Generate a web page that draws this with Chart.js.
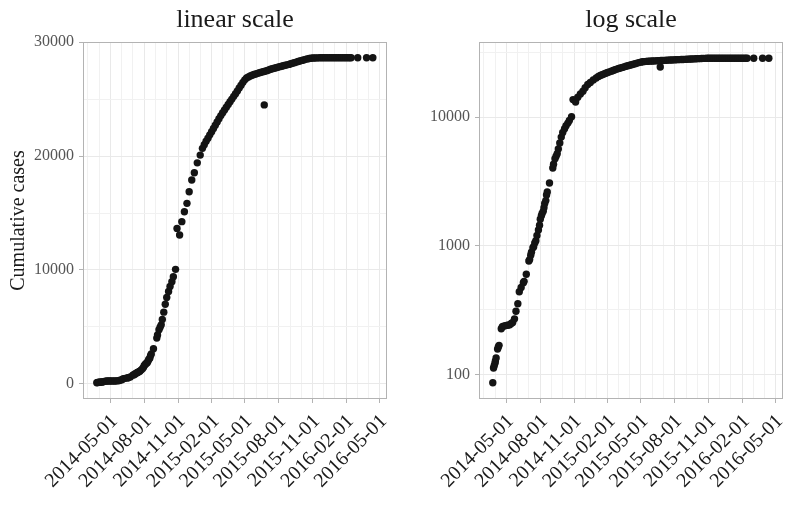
<!DOCTYPE html>
<html>
<head>
<meta charset="utf-8">
<script src="https://cdn.jsdelivr.net/npm/chart.js@4.4.1/dist/chart.umd.min.js"></script>
<style>
  html, body { margin: 0; padding: 0; background: #fff; }
  #wrap { position: relative; width: 794px; height: 529px; }
  canvas { position: absolute; top: 0; }
  #linearChart { left: 0; }
  #logChart { left: 397px; }
</style>
</head>
<body>
<div id="wrap">
  <canvas id="linearChart" width="397" height="529"></canvas>
  <canvas id="logChart" width="397" height="529"></canvas>
</div>
<script>
// cumulative cases by report date
var dates = [
  '2014-03-25', '2014-03-27', '2014-03-29', '2014-03-31', '2014-04-01', '2014-04-03',
  '2014-04-07', '2014-04-09', '2014-04-11', '2014-04-17', '2014-04-20', '2014-04-23',
  '2014-04-27', '2014-05-01', '2014-05-05', '2014-05-10', '2014-05-14', '2014-05-18',
  '2014-05-23', '2014-05-27', '2014-06-01', '2014-06-05', '2014-06-10', '2014-06-16',
  '2014-06-18', '2014-06-24', '2014-07-01', '2014-07-03', '2014-07-06', '2014-07-08',
  '2014-07-12', '2014-07-14', '2014-07-17', '2014-07-20', '2014-07-23', '2014-07-27',
  '2014-07-30', '2014-08-01', '2014-08-04', '2014-08-06', '2014-08-09', '2014-08-11',
  '2014-08-13', '2014-08-16', '2014-08-18', '2014-08-20', '2014-08-26', '2014-09-04',
  '2014-09-06', '2014-09-10', '2014-09-13', '2014-09-16', '2014-09-19', '2014-09-23',
  '2014-09-27', '2014-10-01', '2014-10-06', '2014-10-10', '2014-10-15', '2014-10-19',
  '2014-10-25', '2014-10-29', '2014-11-05', '2014-11-11', '2014-11-18', '2014-11-25',
  '2014-12-01', '2014-12-08', '2014-12-15', '2014-12-23', '2014-12-31',
  '2015-01-06', '2015-01-11', '2015-01-16', '2015-01-21', '2015-01-26', '2015-01-31',
  '2015-02-05', '2015-02-10', '2015-02-15', '2015-02-20', '2015-02-25', '2015-03-02',
  '2015-03-07', '2015-03-12', '2015-03-17', '2015-03-22', '2015-03-27', '2015-04-01',
  '2015-04-06', '2015-04-11', '2015-04-16', '2015-04-21', '2015-04-26', '2015-05-01',
  '2015-05-06', '2015-05-11', '2015-05-16', '2015-05-21', '2015-05-26', '2015-05-31',
  '2015-06-05', '2015-06-10', '2015-06-15', '2015-06-20', '2015-06-23', '2015-06-25',
  '2015-06-30', '2015-07-05', '2015-07-10', '2015-07-15', '2015-07-20', '2015-07-25',
  '2015-07-30', '2015-08-04', '2015-08-09', '2015-08-14', '2015-08-19', '2015-08-24',
  '2015-08-29', '2015-09-03', '2015-09-08', '2015-09-13', '2015-09-18', '2015-09-23',
  '2015-09-28', '2015-10-03', '2015-10-08', '2015-10-13', '2015-10-18', '2015-10-23',
  '2015-10-28', '2015-11-02', '2015-11-07', '2015-11-12', '2015-11-17', '2015-11-22',
  '2015-11-27', '2015-12-02', '2015-12-07', '2015-12-12', '2015-12-17', '2015-12-22',
  '2015-12-27', '2016-01-01', '2016-01-06', '2016-01-11', '2016-01-16', '2016-01-21',
  '2016-01-26', '2016-01-31', '2016-02-05', '2016-02-10', '2016-02-14', '2016-03-03',
  '2016-03-27', '2016-04-13'
];
var cases = [
  86, 112, 117, 122, 127, 134,
  157, 163, 168, 226, 234, 237,
  238, 240, 241, 243, 248, 253,
  270, 309, 354, 438, 474, 516,
  528, 599, 759, 779, 844, 888,
  964, 982, 1048, 1093, 1201, 1323,
  1440, 1603, 1711, 1779, 1848, 1975,
  2127, 2240, 2473, 2615, 3069, 4010,
  4290, 4740, 4960, 5175, 5650, 6290,
  6980, 7580, 8100, 8540, 8970, 9410,
  10050, 13650, 13070, 14240, 15115, 15850,
  16870, 17895, 18535, 19410, 20090,
  20680, 21000, 21300, 21580, 21870, 22150,
  22430, 22720, 23000, 23290, 23560, 23810,
  24050, 24290, 24540, 24780, 25010, 25250,
  25490, 25730, 25980, 26230, 26480, 26700,
  26860, 26960, 27040, 27110, 27170, 27220,
  27270, 27320, 27370, 27420, 24500, 27460,
  27510, 27570, 27630, 27680, 27720, 27770,
  27810, 27860, 27900, 27940, 27980, 28020,
  28060, 28110, 28160, 28210, 28260, 28310,
  28360, 28410, 28450, 28500, 28540, 28570,
  28600, 28615, 28625, 28630, 28635, 28637,
  28637, 28637, 28638, 28638, 28640, 28640,
  28640, 28641, 28641, 28641, 28642, 28642,
  28642, 28642, 28643, 28643, 28644, 28644,
  28646, 28646
];

var xTickDates = ['2014-05-01', '2014-08-01', '2014-11-01', '2015-02-01', '2015-05-01',
                  '2015-08-01', '2015-11-01', '2016-02-01', '2016-05-01'];
var linearTicks = [0, 10000, 20000, 30000];
var logTicks = [100, 1000, 10000];

var serif = "'Liberation Serif', 'DejaVu Serif', serif";
var ink = '#1a1a1a';
var frameGrey = '#b3b3b3';

function dayNum(s) {
    return Date.parse(s + 'T00:00:00Z') / 86400000;
}

var points = dates.map(function (d, i) { return { x: dayNum(d), y: cases[i] }; });
var majorX = xTickDates.map(dayNum);

// monthly minor grid lines
var monthTicks = [];
for (var y = 2014; y <= 2016; y++) {
    for (var m = 1; m <= 12; m++) {
        var s = y + '-' + (m < 10 ? '0' + m : m) + '-01';
        if (s >= '2014-03-01' && s <= '2016-05-01') monthTicks.push(dayNum(s));
    }
}

function isMajorX(v) { return majorX.indexOf(v) >= 0; }

var panelPlugin = {
    id: 'panel',
    afterDraw: function (chart) {
        var ctx = chart.ctx;
        var a = chart.chartArea;
        var o = chart.options.plugins.panel;
        ctx.save();
        // panel border
        ctx.strokeStyle = frameGrey;
        ctx.lineWidth = 1;
        ctx.strokeRect(Math.round(a.left) + 0.5, Math.round(a.top) + 0.5,
                       Math.round(a.right - a.left) - 1, Math.round(a.bottom - a.top) - 1);
        // title
        ctx.fillStyle = ink;
        ctx.font = '26px ' + serif;
        ctx.textAlign = 'center';
        ctx.textBaseline = 'alphabetic';
        ctx.fillText(o.title, (a.left + a.right) / 2, 27);
        // rotated date labels
        ctx.font = '20px ' + serif;
        ctx.textAlign = 'right';
        xTickDates.forEach(function (d) {
            var px = chart.scales.x.getPixelForValue(dayNum(d));
            ctx.save();
            ctx.translate(px + 8, a.bottom + 23);
            ctx.rotate(-Math.PI / 4);
            ctx.fillText(d, 0, 0);
            ctx.restore();
        });
        // y axis title
        if (o.yTitle) {
            ctx.save();
            ctx.font = '20px ' + serif;
            ctx.textAlign = 'center';
            ctx.translate(24, (a.top + a.bottom) / 2);
            ctx.rotate(-Math.PI / 2);
            ctx.fillText(o.yTitle, 0, 0);
            ctx.restore();
        }
        ctx.restore();
    }
};

function makeChart(id, opts) {
    var el = document.getElementById(id).getContext('2d');
    return new Chart(el, {
        type: 'scatter',
        data: {
            datasets: [{
                data: points,
                backgroundColor: '#141414',
                borderWidth: 0,
                pointRadius: 3.7,
                pointHoverRadius: 3.7
            }]
        },
        options: {
            responsive: false,
            animation: false,
            events: [],
            layout: { padding: { top: 42, right: opts.rightPad, bottom: 0, left: 0 } },
            plugins: {
                legend: { display: false },
                tooltip: { enabled: false },
                panel: { title: opts.title, yTitle: opts.yTitle }
            },
            scales: {
                x: {
                    type: 'linear',
                    min: dayNum('2014-02-15') + 0.5,
                    max: dayNum('2016-05-21') + 0.5,
                    afterBuildTicks: function (scale) {
                        scale.ticks = monthTicks.map(function (v) { return { value: v }; });
                    },
                    afterFit: function (scale) { scale.height = 130; },
                    ticks: { display: false, autoSkip: false },
                    border: { display: false },
                    grid: {
                        color: function (c) { return c.tick && isMajorX(c.tick.value) ? '#e9e9e9' : '#f1f1f1'; },
                        lineWidth: 1,
                        tickLength: 4,
                        tickColor: function (c) { return c.tick && isMajorX(c.tick.value) ? frameGrey : 'rgba(0,0,0,0)'; }
                    }
                },
                y: {
                    type: opts.yType,
                    min: opts.yMin,
                    max: opts.yMax,
                    afterBuildTicks: function (scale) {
                        scale.ticks = opts.yGrid.map(function (v) { return { value: v }; });
                    },
                    afterFit: function (scale) { scale.width = opts.leftW; },
                    border: { display: false },
                    ticks: {
                        autoSkip: false,
                        padding: 5,
                        color: '#555',
                        font: { family: serif, size: 16 },
                        callback: function (v) {
                            return opts.yMajor.indexOf(v) >= 0 ? String(v) : '';
                        }
                    },
                    grid: {
                        color: function (c) { return c.tick && opts.yMajor.indexOf(c.tick.value) >= 0 ? '#e9e9e9' : '#f1f1f1'; },
                        lineWidth: 1,
                        tickLength: 4,
                        tickColor: function (c) { return c.tick && opts.yMajor.indexOf(c.tick.value) >= 0 ? frameGrey : 'rgba(0,0,0,0)'; }
                    }
                }
            }
        },
        plugins: [panelPlugin]
    });
}

var linearChart = makeChart('linearChart', {
    title: 'linear scale',
    yTitle: 'Cumulative cases',
    yType: 'linear',
    yMin: -1340,
    yMax: 30026,
    yMajor: linearTicks,
    yGrid: [0, 5000, 10000, 15000, 20000, 25000, 30000],
    leftW: 83,
    rightPad: 10
});

var logChart = makeChart('logChart', {
    title: 'log scale',
    yTitle: null,
    yType: 'logarithmic',
    yMin: 64.3,
    yMax: 38280,
    yMajor: logTicks,
    yGrid: [100, Math.pow(10, 2.5), 1000, Math.pow(10, 3.5), 10000, Math.pow(10, 4.5)],
    leftW: 82,
    rightPad: 11
});
</script>
</body>
</html>
